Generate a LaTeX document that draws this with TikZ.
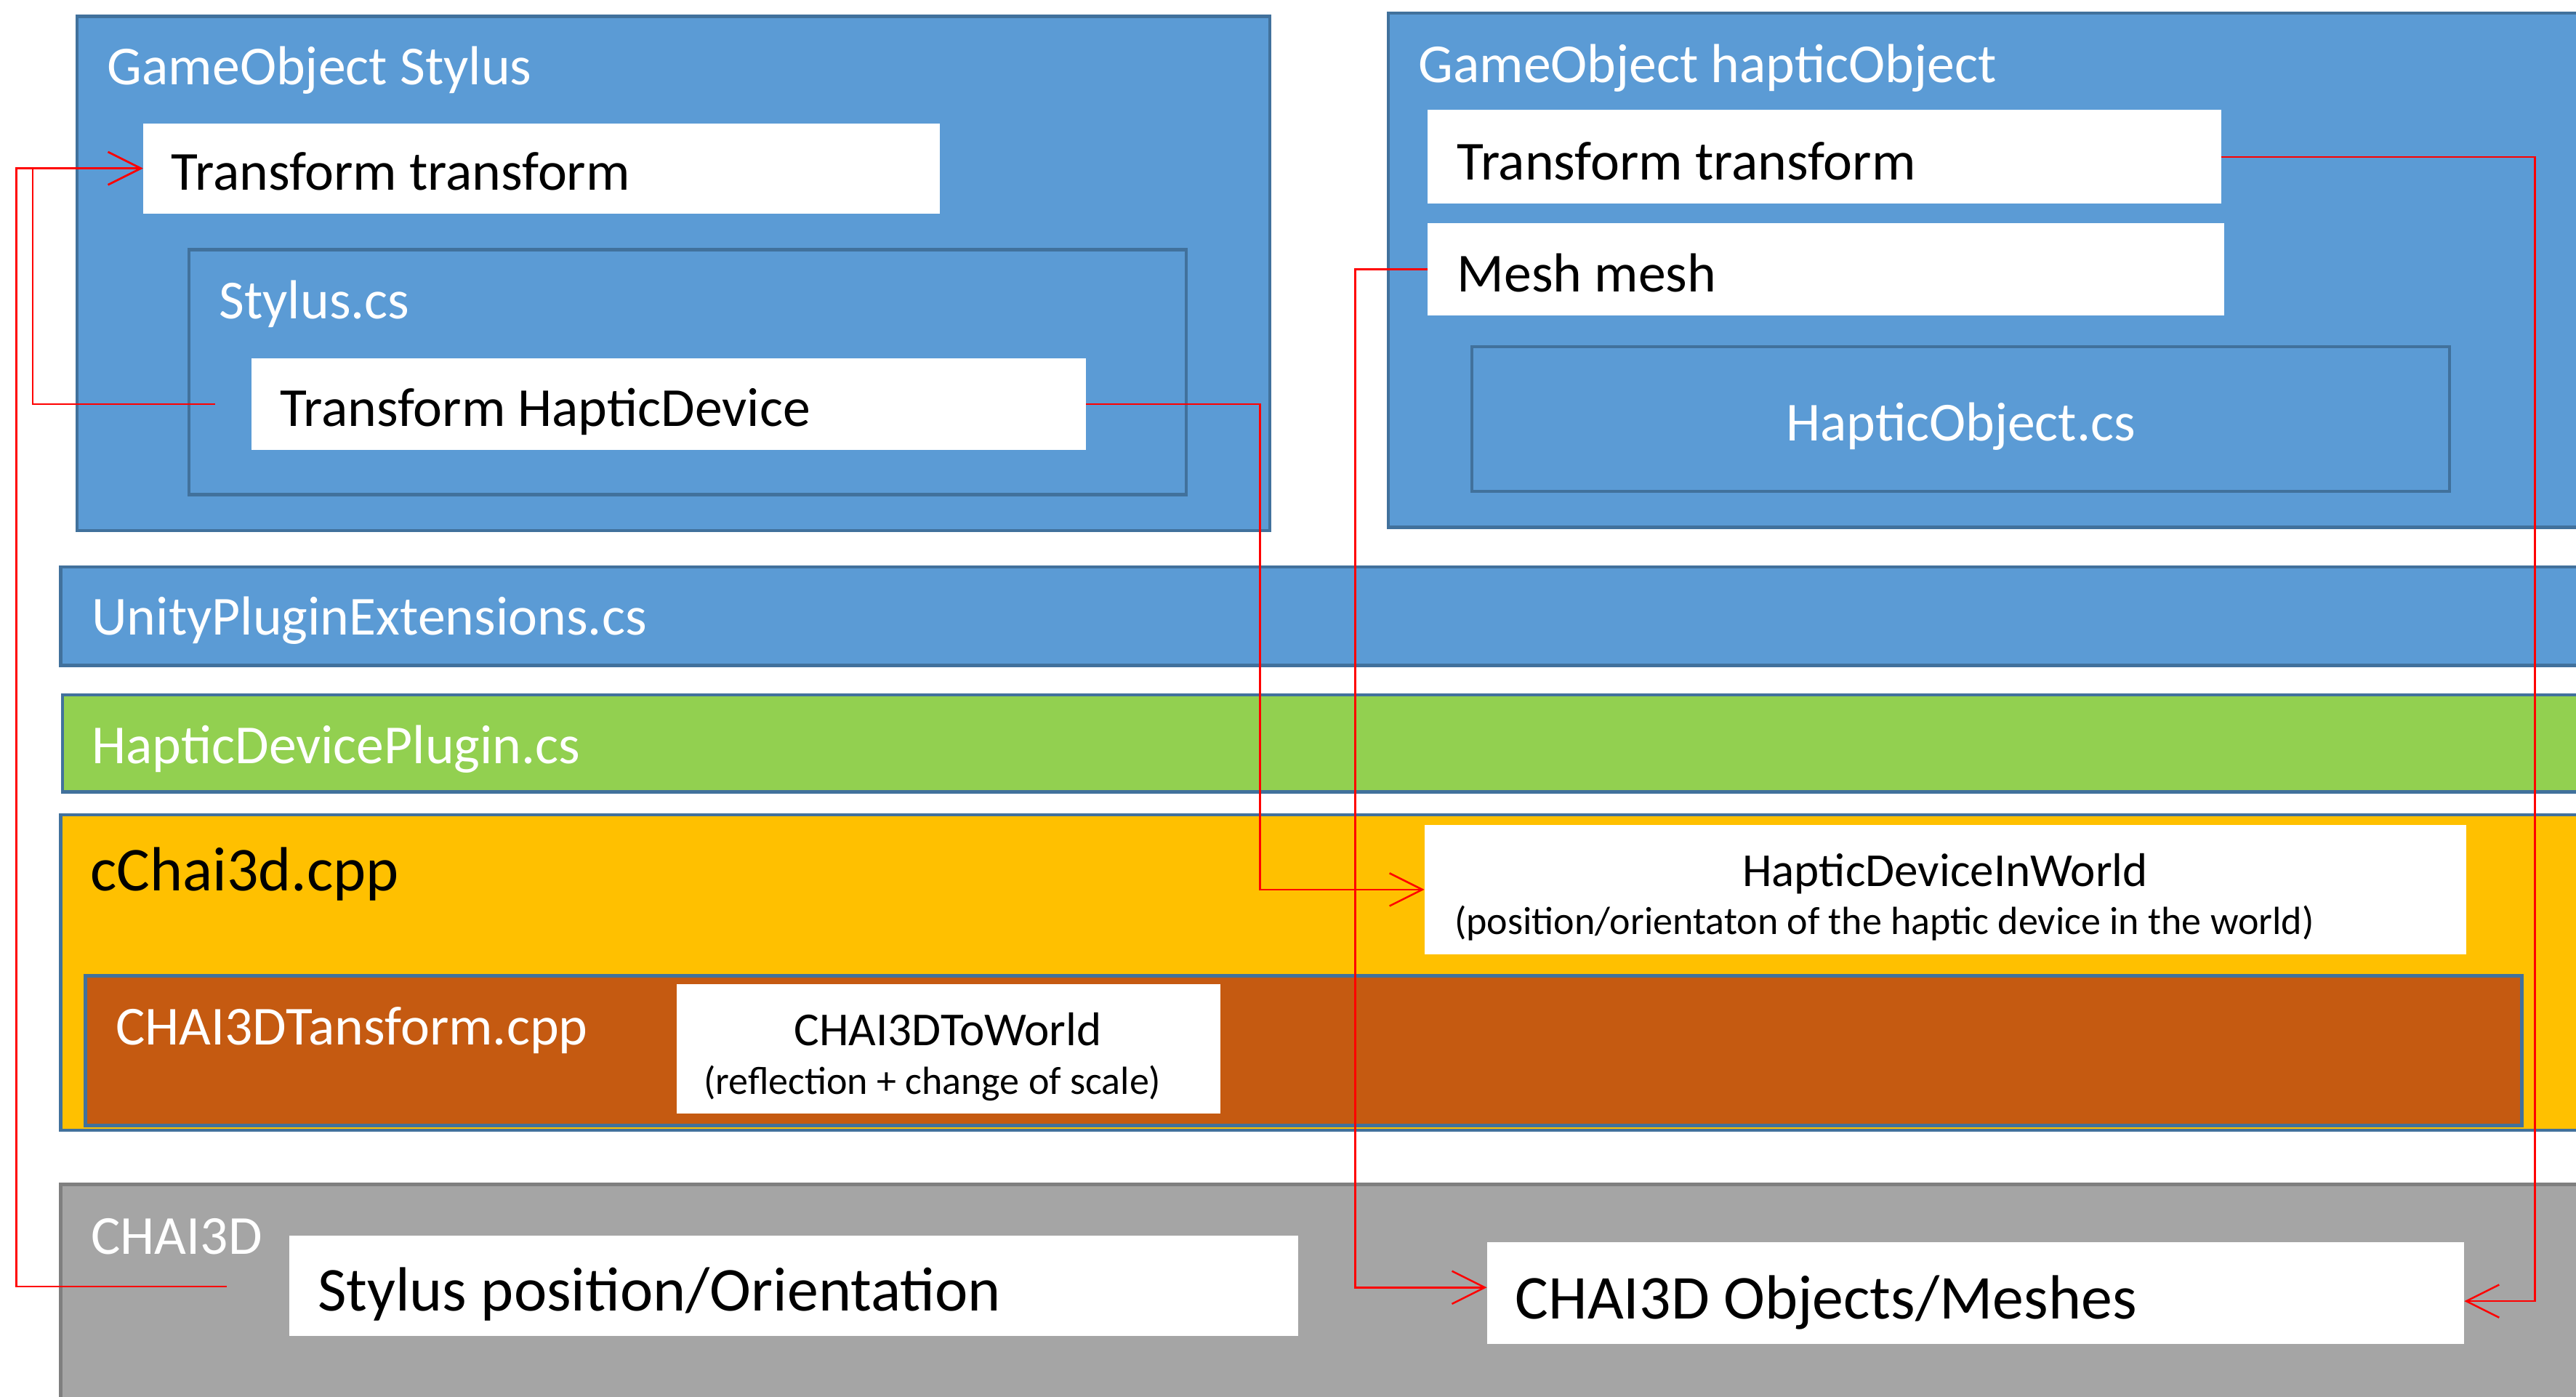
\documentclass[tikz,border=0pt]{standalone}
\usepackage{fontspec}
\setmainfont{Carlito}
\usetikzlibrary{arrows.meta,fit}
\definecolor{bluefill}{HTML}{5B9BD5}
\definecolor{blueline}{HTML}{41719C}
\definecolor{greenfill}{HTML}{92D050}
\definecolor{orangefill}{HTML}{FFC000}
\definecolor{brownfill}{HTML}{C55A11}
\definecolor{grayfill}{HTML}{A5A5A5}
\definecolor{grayline}{HTML}{7F7F7F}
\definecolor{conred}{HTML}{FF0000}
\tikzset{
  region/.style={inner sep=0pt, outer sep=0pt, line width=1pt, draw=blueline},
  bluebox/.style={region, fill=bluefill},
  whitebox/.style={inner sep=0pt, outer sep=0pt, fill=white},
  lbl/.style={inner sep=0pt, anchor=base west},
  clbl/.style={inner sep=0pt, anchor=base},
  fmain/.style={font=\fontsize{16.75}{19}\selectfont},
  fbig/.style={font=\fontsize{19}{22}\selectfont},
  fsmall/.style={font=\fontsize{14.4}{16}\selectfont},
  fsub/.style={font=\fontsize{11.95}{14}\selectfont},
  link/.style={draw=conred, line width=0.55pt},
  linkarrow/.style={link, -{Straight Barb[length=10pt,width=10pt]}}
}
\begin{document}
\begin{tikzpicture}[x=0.5pt, y=-0.5pt]
\clip (0,0) rectangle (1568,850);
\fill[white] (0,0) rectangle (1568,850);
% GameObject Stylus
\node[bluebox, fit={(47,10) (773,323)}] (stylusgo) {};
\node[lbl, fmain, text=white] (stylusgolbl) at (65,51.5) {GameObject Stylus};
\node[whitebox, fit={(87,75) (572,130)}] (tt1) {};
\node[lbl, fmain] (tt1lbl) at (104,115.8) {Transform transform};
\node[bluebox, fit={(115,152) (722,301)}] (styluscs) {};
\node[lbl, fmain, text=white] (styluscslbl) at (133,194) {Stylus.cs};
\node[whitebox, fit={(153,218) (661,274)}] (thd) {};
\node[lbl, fmain] (thdlbl) at (170,259.5) {Transform HapticDevice};
% GameObject hapticObject
\node[bluebox, fit={(845,8) (1600,321)}] (hapticgo) {};
\node[lbl, fmain, text=white] (hapticgolbl) at (863,50.4) {GameObject hapticObject};
\node[whitebox, fit={(869,67) (1352,124)}] (tt2) {};
\node[lbl, fmain] (tt2lbl) at (886.6,109.4) {Transform transform};
\node[whitebox, fit={(869,136) (1354,192)}] (mesh) {};
\node[lbl, fmain] (meshlbl) at (886.6,177.6) {Mesh mesh};
\node[bluebox, fit={(896,211) (1491,299)}] (hapticcs) {};
\node[clbl, fmain, text=white] (hapticcslbl) at (1193.5,268.5) {HapticObject.cs};
% bands
\node[bluebox, fit={(37,345) (1600,405)}] (upe) {};
\node[lbl, fmain, text=white] (upelbl) at (55.5,386.4) {UnityPluginExtensions.cs};
\node[region, fill=greenfill, fit={(38,423) (1600,482)}] (hdp) {};
\node[lbl, fmain, text=white] (hdplbl) at (55.5,465) {HapticDevicePlugin.cs};
\node[region, fill=orangefill, fit={(37,496) (1600,688)}] (cchai) {};
\node[lbl, fbig] (cchailbl) at (54.5,542.2) {cChai3d.cpp};
\node[whitebox, fit={(867,502) (1501,581)}] (hdw) {};
\node[clbl, fsmall] (hdwlbl) at (1184,539.5) {HapticDeviceInWorld};
\node[lbl, fsub] (hdwsub) at (885,568.8) {(position/orientaton of the haptic device in the world)};
\node[region, fill=brownfill, fit={(52,594) (1535,685)}] (ctrans) {};
\node[lbl, fmain, text=white] (ctranslbl) at (70,636.1) {CHAI3DTansform.cpp};
\node[whitebox, fit={(412,599) (743,678)}] (ctw) {};
\node[clbl, fsmall] (ctwlbl) at (577,636.5) {CHAI3DToWorld};
\node[clbl, fsub] (ctwsub) at (567.5,665.9) {(reflection + change of scale)};
% CHAI3D
\node[region, draw=grayline, fill=grayfill, fit={(37,721) (1600,880)}] (chai) {};
\node[lbl, fmain, text=white] (chailbl) at (55,763.6) {CHAI3D};
\node[whitebox, fit={(176,752) (790,813)}] (spo) {};
\node[lbl, fbig] (spolbl) at (193,798) {Stylus position/Orientation};
\node[whitebox, fit={(905,756) (1500,818)}] (com) {};
\node[lbl, fbig] (comlbl) at (922,803) {CHAI3D Objects/Meshes};
% connectors
\coordinate (thdout) at (131,246);
\coordinate (spoout) at (138,783);
\coordinate (comin) at (905,783.7);
\coordinate (comin2) at (1500,792);
\draw[linkarrow] (thdout) -- (20,246) |- (tt1.west);
\draw[linkarrow] (spoout) -- (10,783) |- (tt1.west);
\draw[linkarrow] (thd.east) -- (767,246) |- (hdw.west);
\draw[linkarrow] (mesh.west) -- (825,164) |- (comin);
\draw[linkarrow] (tt2.east) -- (1543,95.5) |- (comin2);
\end{tikzpicture}
\end{document}
